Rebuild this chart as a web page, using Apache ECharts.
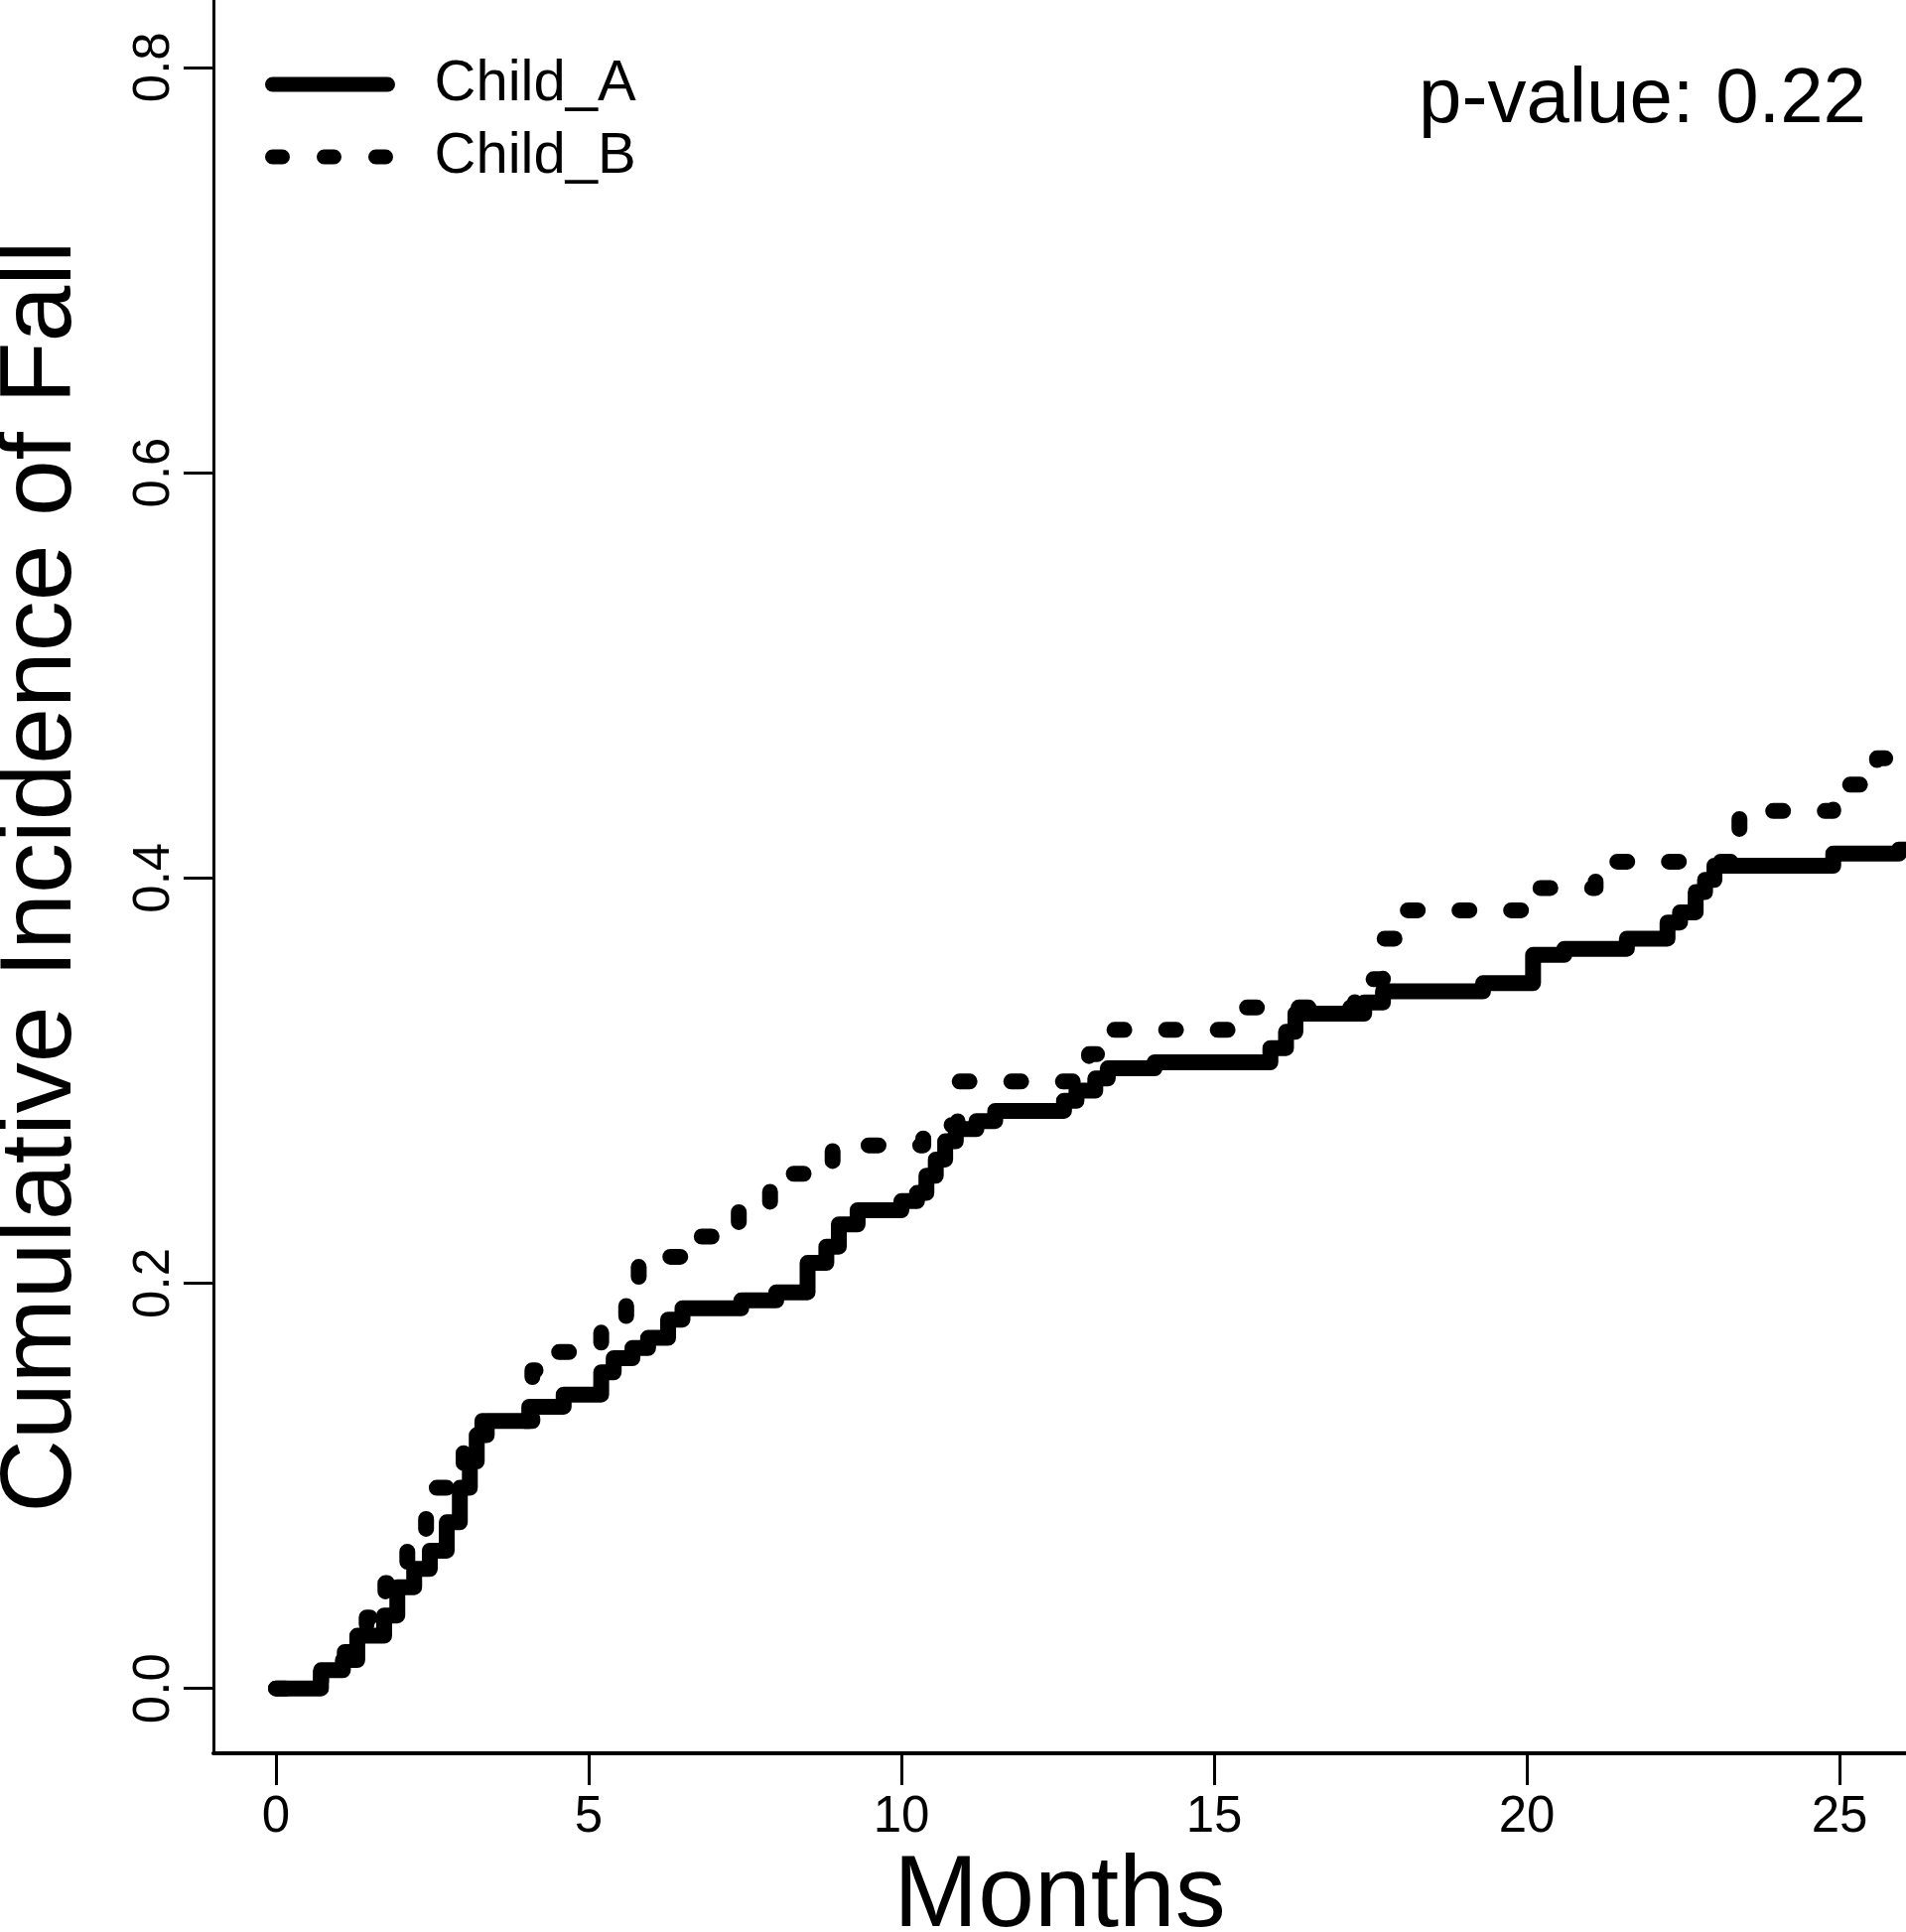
<!DOCTYPE html>
<html>
<head>
<meta charset="utf-8">
<title>Cumulative Incidence of Fall</title>
<script src="https://cdn.jsdelivr.net/npm/echarts@6/dist/echarts.min.js"></script>
<style>
  * { margin: 0; padding: 0; }
  body { background: #fff; }
</style>
</head>
<body>
<div id="main" style="width: 1920px;height: 1946px;"></div>
<script>
  // step start points (months) and cumulative incidence
  var monthsA = [0, 0.72, 1.07, 1.30, 1.73, 1.94, 2.21, 2.46, 2.73, 2.94, 3.1, 3.21, 3.37, 4.05, 4.6, 5.2, 5.4, 5.7, 5.95, 6.27,
    6.5, 7.44, 8.0, 8.5, 8.8, 9.0, 9.3, 10.0, 10.25, 10.4, 10.55, 10.7, 10.87, 11.2, 11.5, 12.6, 12.8, 13.1, 13.3, 14.05,
    15.9, 16.15, 16.3, 17.4, 17.7, 19.3, 20.1, 20.6, 21.6, 22.25, 22.45, 22.7, 22.85, 23.0, 24.9, 25.95, 26.1];
  var valuesA = [0, 0.009, 0.014, 0.026, 0.036, 0.05, 0.059, 0.068, 0.082, 0.099, 0.112, 0.125, 0.132, 0.139, 0.145, 0.156, 0.163, 0.168, 0.173, 0.182,
    0.1876, 0.1915, 0.1955, 0.21, 0.218, 0.229, 0.236, 0.2405, 0.2445, 0.253, 0.261, 0.27, 0.276, 0.28, 0.285, 0.29, 0.295, 0.301, 0.306, 0.309,
    0.316, 0.324, 0.333, 0.3385, 0.344, 0.348, 0.362, 0.365, 0.37, 0.378, 0.383, 0.393, 0.399, 0.406, 0.412, 0.414, 0.414];

  var monthsB = [0, 0.72, 1.1, 1.45, 1.75, 2.1, 2.4, 2.8, 3.0, 3.3, 4.1, 4.45, 5.2, 5.6, 5.8, 6.8, 7.4, 7.9, 8.9, 10.35,
    10.9, 13.0, 13.4, 15.3, 17.25, 17.7, 18.0, 20.05, 21.1, 23.4, 24.9, 25.6, 26.1];
  var valuesB = [0, 0.009, 0.018, 0.035, 0.052, 0.074, 0.099, 0.11, 0.122, 0.132, 0.157, 0.166, 0.182, 0.2, 0.213, 0.223, 0.24, 0.254, 0.268, 0.278,
    0.2995, 0.313, 0.325, 0.336, 0.35, 0.37, 0.384, 0.395, 0.408, 0.433, 0.446, 0.459, 0.459];

  var xTicks = [0, 5, 10, 15, 20, 25];
  var yTicks = [0, 0.2, 0.4, 0.6, 0.8];
  var pValueText = 'p-value: 0.22';

  var font = "'Liberation Sans', Arial, sans-serif";
  var dotted = [10, 42];

  function pairs(xs, ys) {
    return xs.map(function (x, i) { return [x, ys[i]]; });
  }

  // one legend per row so each row sits where the original has it
  function legendRow(name, top, dash) {
    return {
      data: [name], left: 267, top: top, orient: 'vertical', padding: 0,
      itemWidth: 116, itemHeight: 16,
      itemStyle: { opacity: 0 },
      lineStyle: { color: '#000', width: 15, type: dash, cap: 'round', opacity: 1 },
      textStyle: { fontSize: 58, fontFamily: font, color: '#000', padding: [0, 0, 0, 42], lineHeight: 58 }
    };
  }

  var chart = echarts.init(document.getElementById('main'));
  var option = {
    animation: false,
    backgroundColor: '#fff',
    textStyle: { fontFamily: font, color: '#000' },
    grid: { left: 215, right: 0, top: 0, bottom: 180, outerBoundsMode: 'none' },
    legend: [
      legendRow('Child_A', 56, 'solid'),
      legendRow('Child_B', 129, dotted)
    ],
    xAxis: {
      type: 'value',
      min: -1, max: 26.063,
      name: 'Months', nameLocation: 'middle', nameGap: 94,
      nameTextStyle: { fontSize: 102, fontFamily: font, color: '#000' },
      axisLine: { onZero: false, lineStyle: { color: '#000', width: 4 } },
      axisTick: { customValues: xTicks, length: 32, lineStyle: { color: '#000', width: 3 } },
      axisLabel: { customValues: xTicks, fontSize: 51, fontFamily: font, color: '#000', margin: 39 },
      splitLine: { show: false }
    },
    yAxis: {
      type: 'value',
      min: -0.032, max: 0.8332,
      name: 'Cumulative Incidence of Fall', nameLocation: 'middle', nameGap: 121, nameRotate: 90,
      nameTextStyle: { fontSize: 102, fontFamily: font, color: '#000' },
      axisLine: { show: true, onZero: false, lineStyle: { color: '#000', width: 3 } },
      axisTick: { show: true, customValues: yTicks, length: 30, lineStyle: { color: '#000', width: 3 } },
      axisLabel: {
        customValues: yTicks, rotate: 90, fontSize: 51, fontFamily: font, color: '#000', margin: 34,
        formatter: function (v) { return v.toFixed(1); }
      },
      splitLine: { show: false }
    },
    graphic: [
      {
        type: 'text', right: 40, top: 62,
        style: { text: pValueText, font: '78px ' + font, fill: '#000' }
      }
    ],
    series: [
      {
        name: 'Child_A', type: 'line', step: 'end', symbol: 'none',
        data: pairs(monthsA, valuesA),
        lineStyle: { color: '#000', width: 16, cap: 'round', join: 'round' },
        itemStyle: { color: '#000' }
      },
      {
        name: 'Child_B', type: 'line', step: 'end', symbol: 'none',
        data: pairs(monthsB, valuesB),
        lineStyle: { color: '#000', width: 16, type: dotted, cap: 'round', join: 'round' },
        itemStyle: { color: '#000' }
      }
    ]
  };
  chart.setOption(option);
</script>
</body>
</html>
